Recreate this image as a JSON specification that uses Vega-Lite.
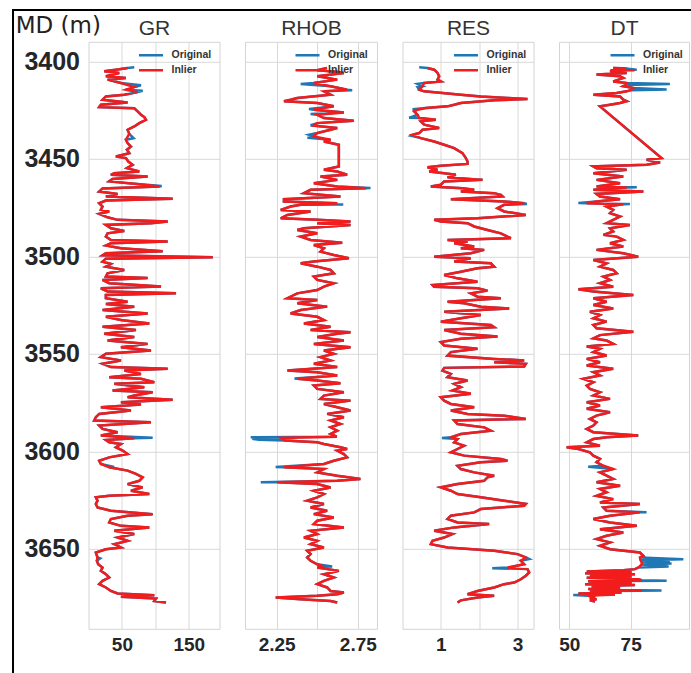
{
"$schema": "https://vega.github.io/schema/vega-lite/v6.json",
"padding": {"left": 12, "top": 9, "right": 0, "bottom": 0},
"background": "white",
"config": {
  "font": "Liberation Sans",
  "view": {"stroke": "#d4d4d4", "strokeWidth": 1},
  "axis": {"gridColor": "#d9d9d9", "gridWidth": 1, "domain": false, "ticks": false, "tickSize": 0, "labelFont": "Liberation Sans", "labelFontWeight": "bold", "labelColor": "#262626"},
  "axisX": {"labelFontSize": 19, "labelPadding": 7, "titleFont": "Liberation Sans", "titleFontSize": 21, "titleFontWeight": "normal", "titleColor": "#333333", "titleBaseline": "alphabetic", "titleAlign": "center", "titleY": -594},
  "axisY": {"labelFontSize": 25, "labelPadding": 9},
  "legend": {"symbolType": "stroke", "symbolSize": 576, "symbolStrokeWidth": 2.5, "labelFontSize": 10.5, "labelFontWeight": "bold", "labelColor": "#333333", "labelOffset": 7, "rowPadding": 0, "clipHeight": 15, "padding": 0, "labelFont": "Liberation Sans"}
},
"datasets": {
"gr": [
{"md":3403.0,"val":68.5,"out":1},{"md":3403.4,"val":58.5},{"md":3404.3,"val":41},{"md":3405.1,"val":23.5},{"md":3406.0,"val":46},{"md":3407.7,"val":26},{"md":3408.6,"val":56},{"md":3409.4,"val":28.5},{"md":3411.1,"val":48.5},{"md":3412.3,"val":78.5,"out":1},{"md":3413.2,"val":68.5},{"md":3414.6,"val":56},{"md":3415.1,"val":81,"out":1},{"md":3415.8,"val":73.5},{"md":3417.1,"val":53.5},{"md":3418.0,"val":26},{"md":3419.7,"val":21},{"md":3421.1,"val":58.5},{"md":3422.3,"val":18.5},{"md":3423.5,"val":16},{"md":3424.1,"val":68.5},{"md":3425.7,"val":73.5},{"md":3427.4,"val":78.5},{"md":3428.6,"val":83.5},{"md":3430.0,"val":86},{"md":3431.7,"val":76},{"md":3433.4,"val":68.5},{"md":3435.1,"val":58.5},{"md":3437.2,"val":61},{"md":3439.4,"val":67.5,"out":1},{"md":3440.2,"val":56},{"md":3441.9,"val":58.5},{"md":3443.7,"val":63.5},{"md":3445.4,"val":57.5},{"md":3447.1,"val":61},{"md":3448.8,"val":41},{"md":3449.6,"val":56},{"md":3451.4,"val":59.5},{"md":3453.1,"val":66},{"md":3454.8,"val":57.5},{"md":3456.5,"val":76},{"md":3457.4,"val":38.5},{"md":3458.2,"val":33.5},{"md":3459.1,"val":88.5},{"md":3460.4,"val":36},{"md":3461.6,"val":31},{"md":3462.8,"val":68.5},{"md":3464.0,"val":109.5,"out":1},{"md":3464.2,"val":106},{"md":3465.2,"val":21},{"md":3466.8,"val":16},{"md":3468.0,"val":43.5},{"md":3469.3,"val":26},{"md":3470.5,"val":126},{"md":3471.4,"val":26},{"md":3472.8,"val":16},{"md":3474.5,"val":21},{"md":3476.2,"val":18.5},{"md":3477.0,"val":31},{"md":3478.2,"val":16},{"md":3480.0,"val":28.5},{"md":3481.3,"val":43.5},{"md":3482.2,"val":118.5},{"md":3483.0,"val":93.5},{"md":3483.9,"val":26},{"md":3485.6,"val":33.5},{"md":3487.0,"val":53.5},{"md":3488.2,"val":28.5},{"md":3489.9,"val":26},{"md":3491.6,"val":33.5},{"md":3492.4,"val":118.5},{"md":3493.3,"val":33.5},{"md":3494.5,"val":26},{"md":3495.9,"val":48.5},{"md":3497.4,"val":111},{"md":3498.4,"val":26},{"md":3499.5,"val":21},{"md":3500.5,"val":186},{"md":3501.2,"val":26},{"md":3502.7,"val":21},{"md":3503.9,"val":33.5},{"md":3505.3,"val":26},{"md":3507.0,"val":53.5},{"md":3508.7,"val":28.5},{"md":3510.4,"val":26},{"md":3511.1,"val":88.5},{"md":3512.1,"val":21},{"md":3513.8,"val":31},{"md":3515.5,"val":108.5},{"md":3516.4,"val":18.5},{"md":3518.1,"val":28.5},{"md":3519.0,"val":131},{"md":3519.8,"val":26},{"md":3521.5,"val":26},{"md":3523.3,"val":58.5},{"md":3524.5,"val":26},{"md":3525.8,"val":68.5},{"md":3527.5,"val":21},{"md":3529.3,"val":88.5},{"md":3531.0,"val":26},{"md":3532.7,"val":48.5},{"md":3534.4,"val":91},{"md":3536.1,"val":21},{"md":3537.8,"val":71},{"md":3539.7,"val":23.5},{"md":3541.4,"val":68.5},{"md":3543.2,"val":28.5},{"md":3544.9,"val":88.5},{"md":3546.6,"val":48.5},{"md":3548.3,"val":93.5},{"md":3550.0,"val":26},{"md":3551.7,"val":18.5},{"md":3553.4,"val":48.5},{"md":3555.1,"val":21},{"md":3556.8,"val":33.5},{"md":3557.7,"val":118.5},{"md":3558.6,"val":53.5},{"md":3560.3,"val":78.5},{"md":3562.0,"val":31},{"md":3562.8,"val":78.5},{"md":3564.6,"val":98.5},{"md":3565.4,"val":38.5},{"md":3567.1,"val":83.5},{"md":3568.8,"val":36},{"md":3569.7,"val":96},{"md":3571.4,"val":68.5},{"md":3572.3,"val":58.5},{"md":3573.5,"val":126},{"md":3574.8,"val":48.5},{"md":3576.0,"val":78.5},{"md":3577.4,"val":18.5},{"md":3579.1,"val":63.5},{"md":3580.8,"val":16},{"md":3582.5,"val":11},{"md":3584.2,"val":8.5},{"md":3585.1,"val":93.5},{"md":3586.8,"val":16},{"md":3588.5,"val":21},{"md":3590.2,"val":43.5},{"md":3591.9,"val":18.5},{"md":3593.0,"val":96,"out":1},{"md":3593.3,"val":68.5},{"md":3594.2,"val":26},{"md":3595.4,"val":31},{"md":3596.2,"val":48.5},{"md":3597.9,"val":41},{"md":3599.6,"val":51},{"md":3601.4,"val":58.5},{"md":3603.1,"val":31},{"md":3604.8,"val":16},{"md":3606.5,"val":18.5},{"md":3608.0,"val":38.5,"out":1},{"md":3608.2,"val":31},{"md":3609.9,"val":58.5},{"md":3611.6,"val":71},{"md":3613.3,"val":81},{"md":3615.1,"val":76},{"md":3616.8,"val":58.5},{"md":3618.5,"val":81},{"md":3620.2,"val":63.5},{"md":3621.9,"val":91},{"md":3622.8,"val":31},{"md":3623.6,"val":11},{"md":3625.3,"val":13.5},{"md":3627.0,"val":11},{"md":3628.8,"val":13.5},{"md":3630.5,"val":33.5},{"md":3632.2,"val":96},{"md":3633.0,"val":58.5},{"md":3634.7,"val":33.5},{"md":3636.5,"val":31},{"md":3638.2,"val":48.5},{"md":3639.0,"val":91},{"md":3640.7,"val":38.5},{"md":3642.4,"val":68.5},{"md":3644.2,"val":43.5},{"md":3645.9,"val":58.5},{"md":3647.6,"val":38.5},{"md":3649.3,"val":48.5},{"md":3650.2,"val":26},{"md":3651.9,"val":11},{"md":3654.4,"val":13.5},{"md":3654.9,"val":17.5,"out":1},{"md":3656.1,"val":12.5},{"md":3657.9,"val":14.5},{"md":3659.6,"val":21},{"md":3661.3,"val":18.5},{"md":3663.0,"val":26},{"md":3664.7,"val":31},{"md":3666.4,"val":21},{"md":3668.1,"val":16},{"md":3669.8,"val":26},{"md":3671.6,"val":33.5},{"md":3672.9,"val":43.5},{"md":3673.8,"val":98.5},{"md":3674.6,"val":48.5},{"md":3675.5,"val":101},{"md":3676.7,"val":98.5},{"md":3677.5,"val":116}
],
"rhob": [
{"md":3403.4,"val":2.56},{"md":3404.6,"val":2.5},{"md":3405.3,"val":2.62},{"md":3406.0,"val":2.664},{"md":3407.7,"val":2.5},{"md":3409.4,"val":2.623},{"md":3411.1,"val":2.479},{"md":3411.6,"val":2.398,"out":1},{"md":3412.8,"val":2.582},{"md":3414.6,"val":2.684},{"md":3414.9,"val":2.715,"out":1},{"md":3415.4,"val":2.541},{"md":3417.1,"val":2.582},{"md":3418.8,"val":2.377},{"md":3419.7,"val":2.336},{"md":3420.5,"val":2.295},{"md":3421.4,"val":2.5},{"md":3423.1,"val":2.602},{"md":3424.5,"val":2.449,"out":1},{"md":3424.8,"val":2.479},{"md":3426.2,"val":2.664},{"md":3427.0,"val":2.459,"out":1},{"md":3427.4,"val":2.5},{"md":3429.1,"val":2.541},{"md":3430.5,"val":2.725},{"md":3431.7,"val":2.5},{"md":3432.8,"val":2.459,"out":1},{"md":3433.0,"val":2.479},{"md":3434.2,"val":2.623},{"md":3435.1,"val":2.582},{"md":3436.8,"val":2.5},{"md":3437.7,"val":2.449,"out":1},{"md":3438.5,"val":2.479},{"md":3439.2,"val":2.44,"out":1},{"md":3440.2,"val":2.582},{"md":3441.1,"val":2.541},{"md":3442.8,"val":2.633},{"md":3443.7,"val":2.633},{"md":3453.9,"val":2.633},{"md":3455.6,"val":2.541},{"md":3456.5,"val":2.623},{"md":3458.2,"val":2.684},{"md":3459.1,"val":2.52},{"md":3460.8,"val":2.623},{"md":3462.5,"val":2.479},{"md":3464.2,"val":2.623},{"md":3465.0,"val":2.828,"out":1},{"md":3465.1,"val":2.8},{"md":3465.9,"val":2.459},{"md":3467.6,"val":2.418},{"md":3469.3,"val":2.643},{"md":3470.7,"val":2.295},{"md":3471.9,"val":2.295},{"md":3472.8,"val":2.623},{"md":3473.2,"val":2.541},{"md":3473.4,"val":2.66,"out":1},{"md":3473.6,"val":2.398},{"md":3474.5,"val":2.336},{"md":3476.2,"val":2.275},{"md":3477.0,"val":2.459},{"md":3478.8,"val":2.316},{"md":3480.5,"val":2.275},{"md":3481.3,"val":2.5},{"md":3482.2,"val":2.705},{"md":3483.0,"val":2.5},{"md":3483.9,"val":2.705},{"md":3485.6,"val":2.418},{"md":3486.5,"val":2.377},{"md":3488.2,"val":2.5},{"md":3489.9,"val":2.398},{"md":3491.6,"val":2.459},{"md":3493.0,"val":2.654},{"md":3494.2,"val":2.479},{"md":3495.9,"val":2.541},{"md":3497.6,"val":2.52},{"md":3499.3,"val":2.602},{"md":3501.0,"val":2.695},{"md":3502.7,"val":2.479},{"md":3503.6,"val":2.398},{"md":3505.3,"val":2.5},{"md":3507.0,"val":2.582},{"md":3508.7,"val":2.602},{"md":3510.4,"val":2.479},{"md":3512.1,"val":2.5},{"md":3513.8,"val":2.602},{"md":3515.5,"val":2.541},{"md":3517.3,"val":2.5},{"md":3519.0,"val":2.377},{"md":3521.5,"val":2.316},{"md":3522.4,"val":2.5},{"md":3524.1,"val":2.377},{"md":3525.8,"val":2.561},{"md":3527.5,"val":2.398},{"md":3529.3,"val":2.336},{"md":3531.0,"val":2.5},{"md":3532.7,"val":2.541},{"md":3534.4,"val":2.418},{"md":3536.1,"val":2.582},{"md":3537.8,"val":2.459},{"md":3538.9,"val":2.705},{"md":3539.7,"val":2.623},{"md":3541.4,"val":2.5},{"md":3543.2,"val":2.664},{"md":3544.9,"val":2.479},{"md":3546.6,"val":2.705},{"md":3548.3,"val":2.541},{"md":3550.0,"val":2.602},{"md":3551.7,"val":2.52},{"md":3553.4,"val":2.582},{"md":3555.1,"val":2.479},{"md":3556.8,"val":2.623},{"md":3558.6,"val":2.316},{"md":3559.4,"val":2.5},{"md":3561.1,"val":2.623},{"md":3562.6,"val":2.36,"out":1},{"md":3562.8,"val":2.377},{"md":3563.7,"val":2.5},{"md":3565.1,"val":2.643},{"md":3566.3,"val":2.479},{"md":3568.0,"val":2.5},{"md":3569.7,"val":2.664},{"md":3571.4,"val":2.541},{"md":3573.1,"val":2.52},{"md":3574.0,"val":2.705},{"md":3575.7,"val":2.541},{"md":3577.4,"val":2.623},{"md":3579.1,"val":2.705},{"md":3580.8,"val":2.561},{"md":3582.5,"val":2.664},{"md":3584.2,"val":2.582},{"md":3586.0,"val":2.643},{"md":3587.7,"val":2.582},{"md":3589.4,"val":2.623},{"md":3591.1,"val":2.582},{"md":3592.5,"val":2.62},{"md":3592.8,"val":2.09,"out":1},{"md":3593.1,"val":2.275},{"md":3593.6,"val":2.1,"out":1},{"md":3594.1,"val":2.14,"out":1},{"md":3594.5,"val":2.3},{"md":3595.4,"val":2.5},{"md":3596.2,"val":2.541},{"md":3597.9,"val":2.643},{"md":3598.8,"val":2.684},{"md":3599.6,"val":2.623},{"md":3601.4,"val":2.664},{"md":3603.1,"val":2.684},{"md":3604.8,"val":2.602},{"md":3606.5,"val":2.541},{"md":3608.0,"val":2.244,"out":1},{"md":3608.2,"val":2.295},{"md":3609.1,"val":2.541},{"md":3610.8,"val":2.5},{"md":3612.5,"val":2.623},{"md":3614.2,"val":2.766},{"md":3615.1,"val":2.623},{"md":3615.8,"val":2.152,"out":1},{"md":3615.9,"val":2.254},{"md":3616.8,"val":2.5},{"md":3618.5,"val":2.582},{"md":3620.2,"val":2.479},{"md":3621.9,"val":2.541},{"md":3623.6,"val":2.5},{"md":3625.3,"val":2.438},{"md":3627.0,"val":2.541},{"md":3628.8,"val":2.459},{"md":3630.5,"val":2.561},{"md":3632.2,"val":2.479},{"md":3633.9,"val":2.602},{"md":3635.6,"val":2.5},{"md":3637.3,"val":2.479},{"md":3639.0,"val":2.664},{"md":3640.7,"val":2.459},{"md":3642.4,"val":2.5},{"md":3644.2,"val":2.418},{"md":3645.9,"val":2.5},{"md":3647.6,"val":2.459},{"md":3649.3,"val":2.541},{"md":3651.0,"val":2.438},{"md":3652.7,"val":2.459},{"md":3654.4,"val":2.438},{"md":3656.1,"val":2.459},{"md":3657.9,"val":2.5},{"md":3659.0,"val":2.592,"out":1},{"md":3659.2,"val":2.541},{"md":3659.6,"val":2.5},{"md":3661.3,"val":2.633},{"md":3663.0,"val":2.541},{"md":3664.7,"val":2.602},{"md":3666.4,"val":2.541},{"md":3668.1,"val":2.5},{"md":3669.8,"val":2.561},{"md":3671.6,"val":2.582},{"md":3672.4,"val":2.664},{"md":3673.3,"val":2.623},{"md":3674.1,"val":2.5},{"md":3675.0,"val":2.244},{"md":3675.8,"val":2.398},{"md":3676.7,"val":2.582},{"md":3677.5,"val":2.623}
],
"res": [
{"md":3403.1,"val":0.435,"out":1},{"md":3403.4,"val":0.65},{"md":3404.3,"val":0.826},{"md":3405.1,"val":0.87},{"md":3406.0,"val":0.913},{"md":3407.7,"val":0.957},{"md":3409.4,"val":0.913},{"md":3410.3,"val":1.0},{"md":3411.1,"val":0.565},{"md":3411.6,"val":0.391,"out":1},{"md":3412.8,"val":0.522},{"md":3413.2,"val":0.39,"out":1},{"md":3414.6,"val":0.435},{"md":3415.4,"val":0.565},{"md":3417.1,"val":1.522},{"md":3418.0,"val":2.043},{"md":3418.8,"val":2.739},{"md":3419.3,"val":3.261},{"md":3420.0,"val":2.391},{"md":3421.4,"val":1.522},{"md":3422.3,"val":1.348},{"md":3423.1,"val":1.174},{"md":3424.0,"val":0.609},{"md":3424.6,"val":0.261,"out":1},{"md":3424.8,"val":0.391},{"md":3425.7,"val":0.304},{"md":3427.4,"val":0.391},{"md":3429.0,"val":0.174,"out":1},{"md":3429.1,"val":0.435},{"md":3430.0,"val":0.87},{"md":3430.8,"val":0.478},{"md":3432.5,"val":0.565},{"md":3434.2,"val":0.957},{"md":3435.1,"val":0.522},{"md":3436.8,"val":0.435},{"md":3437.7,"val":0.261},{"md":3438.2,"val":0.217,"out":1},{"md":3439.4,"val":0.478},{"md":3441.1,"val":0.826},{"md":3442.8,"val":1.087},{"md":3444.5,"val":1.348},{"md":3447.1,"val":1.565},{"md":3449.6,"val":1.652},{"md":3451.4,"val":1.696},{"md":3452.6,"val":1.696},{"md":3453.6,"val":1.0},{"md":3454.3,"val":0.652},{"md":3455.6,"val":0.913},{"md":3456.5,"val":0.696},{"md":3457.4,"val":1.087},{"md":3458.2,"val":1.391},{"md":3459.4,"val":1.174},{"md":3460.8,"val":2.087},{"md":3461.6,"val":1.087},{"md":3463.3,"val":1.0},{"md":3464.2,"val":0.739},{"md":3465.1,"val":1.565},{"md":3465.9,"val":1.87},{"md":3466.8,"val":1.522},{"md":3467.6,"val":2.391},{"md":3468.5,"val":2.565},{"md":3469.3,"val":2.609},{"md":3470.7,"val":1.261},{"md":3471.9,"val":2.652},{"md":3472.8,"val":3.174},{"md":3473.2,"val":3.243,"out":1},{"md":3473.6,"val":2.652},{"md":3475.3,"val":2.478},{"md":3477.0,"val":2.652},{"md":3478.8,"val":3.217},{"md":3480.5,"val":1.957},{"md":3481.3,"val":0.826},{"md":3482.2,"val":1.0},{"md":3483.0,"val":1.696},{"md":3484.7,"val":1.87},{"md":3486.5,"val":2.217},{"md":3488.2,"val":2.565},{"md":3489.9,"val":2.739},{"md":3490.7,"val":2.826},{"md":3491.6,"val":1.174},{"md":3492.4,"val":1.696},{"md":3493.3,"val":1.348},{"md":3495.0,"val":1.87},{"md":3495.9,"val":1.522},{"md":3496.7,"val":2.13},{"md":3498.4,"val":1.783},{"md":3500.2,"val":0.826},{"md":3501.0,"val":1.783},{"md":3502.7,"val":1.348},{"md":3503.6,"val":2.304},{"md":3505.3,"val":2.391},{"md":3506.1,"val":1.957},{"md":3507.9,"val":1.522},{"md":3509.6,"val":1.087},{"md":3511.3,"val":1.435},{"md":3513.0,"val":1.957},{"md":3514.7,"val":0.783},{"md":3515.6,"val":0.826},{"md":3516.4,"val":1.957},{"md":3517.6,"val":2.217},{"md":3519.0,"val":1.783},{"md":3520.7,"val":1.957},{"md":3521.5,"val":2.565},{"md":3523.3,"val":1.174},{"md":3524.1,"val":1.609},{"md":3525.8,"val":2.043},{"md":3526.7,"val":2.783},{"md":3528.4,"val":1.087},{"md":3530.1,"val":2.043},{"md":3531.8,"val":1.522},{"md":3533.5,"val":1.0},{"md":3535.2,"val":2.304},{"md":3536.4,"val":2.391},{"md":3537.8,"val":1.087},{"md":3539.7,"val":1.522},{"md":3541.1,"val":2.478},{"md":3542.3,"val":1.522},{"md":3544.0,"val":1.0},{"md":3545.7,"val":1.087},{"md":3547.4,"val":1.957},{"md":3549.1,"val":1.261},{"md":3550.9,"val":1.174},{"md":3552.6,"val":2.391},{"md":3553.4,"val":3.174},{"md":3554.3,"val":2.391},{"md":3555.1,"val":3.217},{"md":3556.5,"val":3.174},{"md":3557.2,"val":1.087},{"md":3558.6,"val":1.043},{"md":3560.3,"val":1.261},{"md":3562.0,"val":1.174},{"md":3563.7,"val":1.696},{"md":3565.4,"val":1.348},{"md":3567.1,"val":1.522},{"md":3568.8,"val":1.304},{"md":3570.5,"val":1.783},{"md":3572.3,"val":1.0},{"md":3574.0,"val":1.087},{"md":3575.7,"val":1.261},{"md":3577.4,"val":1.87},{"md":3579.1,"val":1.261},{"md":3580.8,"val":1.696},{"md":3581.7,"val":2.652},{"md":3583.4,"val":3.217},{"md":3584.2,"val":1.348},{"md":3586.0,"val":1.435},{"md":3587.7,"val":2.13},{"md":3589.4,"val":2.304},{"md":3591.1,"val":1.522},{"md":3592.8,"val":1.27},{"md":3593.1,"val":1.03,"out":1},{"md":3593.7,"val":1.435},{"md":3595.4,"val":1.348},{"md":3597.1,"val":1.609},{"md":3598.8,"val":1.435},{"md":3600.5,"val":1.261},{"md":3602.2,"val":1.609},{"md":3603.9,"val":2.565},{"md":3604.8,"val":2.739},{"md":3605.6,"val":2.043},{"md":3607.4,"val":1.435},{"md":3609.1,"val":1.522},{"md":3610.8,"val":1.87},{"md":3612.5,"val":2.391},{"md":3613.3,"val":2.217},{"md":3615.1,"val":2.13},{"md":3616.8,"val":1.435},{"md":3618.5,"val":1.0},{"md":3620.2,"val":1.261},{"md":3621.9,"val":1.435},{"md":3623.6,"val":2.043},{"md":3625.3,"val":2.652},{"md":3627.0,"val":3.217},{"md":3627.9,"val":3.174},{"md":3629.6,"val":2.043},{"md":3631.3,"val":1.87},{"md":3633.0,"val":1.261},{"md":3634.7,"val":1.174},{"md":3636.5,"val":1.435},{"md":3637.3,"val":2.261},{"md":3639.0,"val":1.348},{"md":3640.7,"val":0.826},{"md":3642.4,"val":1.304},{"md":3644.2,"val":1.087},{"md":3645.9,"val":0.783},{"md":3647.6,"val":0.739},{"md":3649.3,"val":1.174},{"md":3651.0,"val":2.391},{"md":3652.7,"val":3.0},{"md":3654.4,"val":3.217},{"md":3655.2,"val":3.304,"out":1},{"md":3656.1,"val":3.087},{"md":3657.9,"val":3.174},{"md":3659.6,"val":2.75},{"md":3659.9,"val":2.34,"out":1},{"md":3660.4,"val":3.261},{"md":3662.1,"val":3.304},{"md":3663.8,"val":3.217},{"md":3665.6,"val":3.087},{"md":3667.3,"val":2.913},{"md":3668.1,"val":2.652},{"md":3669.8,"val":2.391},{"md":3671.6,"val":1.957},{"md":3673.3,"val":1.696},{"md":3674.1,"val":2.391},{"md":3675.0,"val":1.957},{"md":3676.4,"val":1.522},{"md":3677.5,"val":1.435}
],
"dt": [
{"md":3403.4,"val":67.9},{"md":3403.6,"val":72.0},{"md":3404.3,"val":77.5,"out":1},{"md":3404.5,"val":70.7},{"md":3405.1,"val":66.6},{"md":3406.0,"val":73.4},{"md":3406.8,"val":61.1},{"md":3407.7,"val":70.7},{"md":3408.6,"val":72.0},{"md":3410.3,"val":67.9},{"md":3411.1,"val":73.4},{"md":3411.6,"val":91.0,"out":1},{"md":3412.2,"val":73.0},{"md":3412.8,"val":72.0},{"md":3413.7,"val":76.1},{"md":3414.4,"val":89.7,"out":1},{"md":3414.8,"val":75.0},{"md":3415.4,"val":73.4},{"md":3416.3,"val":69.3},{"md":3417.1,"val":59.8},{"md":3418.0,"val":70.7},{"md":3419.7,"val":72.0},{"md":3420.5,"val":73.4},{"md":3421.4,"val":70.7},{"md":3422.3,"val":66.6},{"md":3423.1,"val":62.5},{"md":3449.6,"val":87.6},{"md":3450.5,"val":81.5},{"md":3451.9,"val":87.0},{"md":3453.1,"val":81.5},{"md":3453.9,"val":59.8},{"md":3454.8,"val":61.1},{"md":3455.6,"val":73.4},{"md":3457.4,"val":59.8},{"md":3459.1,"val":72.0},{"md":3460.8,"val":61.1},{"md":3462.5,"val":70.7},{"md":3464.2,"val":61.1},{"md":3464.6,"val":77.5,"out":1},{"md":3464.7,"val":73.4},{"md":3465.9,"val":59.8},{"md":3466.8,"val":80.2},{"md":3468.0,"val":61.1},{"md":3469.3,"val":62.5},{"md":3470.7,"val":70.7},{"md":3471.9,"val":61.1},{"md":3472.7,"val":53.7,"out":1},{"md":3472.8,"val":57.1},{"md":3473.2,"val":74.7,"out":1},{"md":3473.3,"val":72.0},{"md":3474.5,"val":65.2},{"md":3476.2,"val":67.9},{"md":3477.9,"val":66.6},{"md":3479.6,"val":70.7},{"md":3481.3,"val":67.9},{"md":3483.0,"val":65.2},{"md":3483.9,"val":74.7},{"md":3485.6,"val":66.6},{"md":3487.3,"val":67.9},{"md":3489.0,"val":63.9},{"md":3489.9,"val":69.3},{"md":3491.6,"val":72.0},{"md":3493.3,"val":66.6},{"md":3495.0,"val":72.0},{"md":3496.7,"val":61.1},{"md":3498.4,"val":72.0},{"md":3500.2,"val":78.1},{"md":3501.9,"val":59.8},{"md":3503.6,"val":65.2},{"md":3505.3,"val":62.5},{"md":3507.0,"val":67.9},{"md":3508.7,"val":69.3},{"md":3510.4,"val":63.9},{"md":3512.1,"val":66.6},{"md":3513.8,"val":62.5},{"md":3515.6,"val":67.9},{"md":3516.9,"val":53.7},{"md":3518.1,"val":59.8},{"md":3519.8,"val":76.1},{"md":3521.5,"val":59.8},{"md":3523.3,"val":65.2},{"md":3525.0,"val":59.8},{"md":3526.7,"val":67.9},{"md":3528.4,"val":58.4},{"md":3530.1,"val":62.5},{"md":3531.8,"val":59.8},{"md":3533.5,"val":65.2},{"md":3535.2,"val":59.8},{"md":3536.9,"val":61.1},{"md":3538.7,"val":76.1},{"md":3540.4,"val":62.5},{"md":3542.1,"val":59.8},{"md":3543.2,"val":65.2},{"md":3544.9,"val":67.9},{"md":3546.2,"val":57.1},{"md":3547.4,"val":62.5},{"md":3549.1,"val":59.8},{"md":3550.9,"val":65.2},{"md":3552.6,"val":57.1},{"md":3554.3,"val":62.5},{"md":3556.0,"val":57.1},{"md":3557.7,"val":67.9},{"md":3559.4,"val":59.8},{"md":3561.1,"val":62.5},{"md":3562.8,"val":55.7},{"md":3564.6,"val":59.8},{"md":3566.3,"val":57.1},{"md":3568.0,"val":58.4},{"md":3569.7,"val":62.5},{"md":3571.4,"val":59.8},{"md":3573.1,"val":66.6},{"md":3574.8,"val":57.1},{"md":3576.5,"val":62.5},{"md":3578.2,"val":57.1},{"md":3580.0,"val":66.6},{"md":3581.7,"val":61.1},{"md":3583.4,"val":58.4},{"md":3585.1,"val":61.1},{"md":3586.8,"val":59.8},{"md":3588.5,"val":57.1},{"md":3590.2,"val":59.8},{"md":3591.9,"val":78.1},{"md":3592.8,"val":65.2},{"md":3593.7,"val":59.8},{"md":3595.4,"val":57.1},{"md":3597.1,"val":62.5},{"md":3597.9,"val":48.9},{"md":3598.8,"val":53.7},{"md":3600.5,"val":58.4},{"md":3602.2,"val":59.8},{"md":3603.9,"val":62.5},{"md":3605.6,"val":61.1},{"md":3607.4,"val":63.9},{"md":3607.9,"val":57.7,"out":1},{"md":3609.1,"val":67.9},{"md":3610.8,"val":62.5},{"md":3612.5,"val":65.2},{"md":3614.2,"val":67.9},{"md":3615.9,"val":61.1},{"md":3617.6,"val":70.7},{"md":3619.3,"val":62.5},{"md":3621.0,"val":65.2},{"md":3622.8,"val":61.1},{"md":3624.5,"val":67.9},{"md":3626.2,"val":62.5},{"md":3627.0,"val":78.8},{"md":3628.8,"val":63.9},{"md":3630.5,"val":65.2},{"md":3631.2,"val":81.5,"out":1},{"md":3631.3,"val":78.8},{"md":3633.0,"val":66.6},{"md":3634.7,"val":59.8},{"md":3636.5,"val":66.6},{"md":3638.2,"val":77.5},{"md":3639.9,"val":62.5},{"md":3641.6,"val":72.0},{"md":3643.3,"val":65.2},{"md":3645.0,"val":61.1},{"md":3646.7,"val":66.6},{"md":3648.4,"val":62.5},{"md":3650.2,"val":66.6},{"md":3651.9,"val":78.8},{"md":3653.6,"val":80.2},{"md":3654.4,"val":78.8},{"md":3655.3,"val":96.5,"out":1},{"md":3655.8,"val":79.0},{"md":3656.4,"val":91.0,"out":1},{"md":3656.9,"val":79.5},{"md":3657.5,"val":91.7,"out":1},{"md":3658.0,"val":79.5},{"md":3659.0,"val":90.5,"out":1},{"md":3659.6,"val":78.1},{"md":3660.4,"val":76.8},{"md":3661.0,"val":72.0},{"md":3661.6,"val":57.1},{"md":3662.0,"val":75.4},{"md":3662.5,"val":56.4},{"md":3663.0,"val":76.8},{"md":3663.5,"val":58.4},{"md":3664.2,"val":75.4},{"md":3664.8,"val":57.1},{"md":3665.6,"val":78.1},{"md":3666.1,"val":79.5},{"md":3666.3,"val":89.7,"out":1},{"md":3666.6,"val":57.7},{"md":3667.5,"val":75.4},{"md":3668.1,"val":56.4},{"md":3668.6,"val":76.8},{"md":3669.2,"val":59.1},{"md":3670.0,"val":70.7},{"md":3670.6,"val":57.7},{"md":3671.2,"val":79.5},{"md":3671.4,"val":87.6,"out":1},{"md":3671.7,"val":58.4},{"md":3672.4,"val":71.3},{"md":3672.9,"val":53.7},{"md":3673.4,"val":68.6},{"md":3673.7,"val":51.6,"out":1},{"md":3674.0,"val":57.7},{"md":3674.6,"val":60.5},{"md":3675.2,"val":58.4},{"md":3675.8,"val":61.1},{"md":3676.4,"val":58.4},{"md":3677.0,"val":60.5}
]
},
"bounds": "flush",
"spacing": 0,
"hconcat": [
{"width": 0.01, "height": 663, "data": {"values": []}, "mark": "point", "view": {"stroke": "#000000", "strokeWidth": 2}},
{"bounds": "flush", "spacing": 30.8, "vconcat": [
{"width": 679, "height": 0.01, "data": {"values": []}, "mark": "point", "view": {"stroke": "#000000", "strokeWidth": 2}},
{"bounds": "flush", "spacing": 25.5,
 "resolve": {"scale": {"color": "independent", "x": "independent"}, "legend": {"color": "independent"}},
 "hconcat": [
{"width": 49, "height": 587, "data": {"values": []}, "mark": "point", "view": {"stroke": null}},
{
  "width": 131, "height": 587, "data": {"name": "gr"},
  "encoding": {
    "y": {"field": "md", "type": "quantitative", "scale": {"domain": [3390, 3691], "reverse": true, "nice": false, "zero": false},
      "axis": {"values": [3400, 3450, 3500, 3550, 3600, 3650], "format": "d",
        "title": "MD (m)", "titleAngle": 0, "titleAlign": "left", "titleBaseline": "alphabetic", "titleX": -73.3, "titleY": -9, "titleFont": "DejaVu Sans", "titleFontSize": 23, "titleFontWeight": "normal", "titleColor": "#222222"}},
    "x": {"field": "val", "type": "quantitative", "scale": {"domain": [0, 196], "nice": false, "zero": false},
      "axis": {"values": [50, 100, 150], "format": "d", "labelExpr": "datum.value == 100 ? '' : datum.label", "title": "GR", "titleX": 65.5}},
    "order": {"field": "md", "type": "quantitative"}
  },
  "layer": [
    {"mark": {"type": "line", "strokeWidth": 2.5}, "encoding": {"color": {"datum": "Original", "type": "nominal", "scale": {"domain": ["Original", "Inlier"], "range": ["#1f77b4", "#f31c1c"]}, "legend": {"orient": "none", "legendX": 49, "legendY": 6, "title": null}}}},
    {"transform": [{"filter": "!datum.out"}], "mark": {"type": "line", "strokeWidth": 2.5}, "encoding": {"color": {"datum": "Inlier", "type": "nominal"}}}
  ]
},
{
  "width": 132, "height": 587, "data": {"name": "rhob"},
  "encoding": {
    "y": {"field": "md", "type": "quantitative", "scale": {"domain": [3390, 3691], "reverse": true, "nice": false, "zero": false},
      "axis": {"values": [3400, 3450, 3500, 3550, 3600, 3650], "labels": false, "title": null}},
    "x": {"field": "val", "type": "quantitative", "scale": {"domain": [2.055, 2.868], "nice": false, "zero": false},
      "axis": {"values": [2.25, 2.5, 2.75], "format": ".2f", "labelExpr": "datum.value == 2.5 ? '' : datum.label", "title": "RHOB", "titleX": 66}},
    "order": {"field": "md", "type": "quantitative"}
  },
  "layer": [
    {"mark": {"type": "line", "strokeWidth": 2.5}, "encoding": {"color": {"datum": "Original", "type": "nominal", "scale": {"domain": ["Original", "Inlier"], "range": ["#1f77b4", "#f31c1c"]}, "legend": {"orient": "none", "legendX": 49, "legendY": 6, "title": null}}}},
    {"transform": [{"filter": "!datum.out"}], "mark": {"type": "line", "strokeWidth": 2.5}, "encoding": {"color": {"datum": "Inlier", "type": "nominal"}}}
  ]
},
{
  "width": 131, "height": 587, "data": {"name": "res"},
  "encoding": {
    "y": {"field": "md", "type": "quantitative", "scale": {"domain": [3390, 3691], "reverse": true, "nice": false, "zero": false},
      "axis": {"values": [3400, 3450, 3500, 3550, 3600, 3650], "labels": false, "title": null}},
    "x": {"field": "val", "type": "quantitative", "scale": {"domain": [0, 3.417], "nice": false, "zero": false},
      "axis": {"values": [1, 2, 3], "format": "d", "labelExpr": "datum.value == 2 ? '' : datum.label", "title": "RES", "titleX": 65.5}},
    "order": {"field": "md", "type": "quantitative"}
  },
  "layer": [
    {"mark": {"type": "line", "strokeWidth": 2.5}, "encoding": {"color": {"datum": "Original", "type": "nominal", "scale": {"domain": ["Original", "Inlier"], "range": ["#1f77b4", "#f31c1c"]}, "legend": {"orient": "none", "legendX": 50, "legendY": 6, "title": null}}}},
    {"transform": [{"filter": "!datum.out"}], "mark": {"type": "line", "strokeWidth": 2.5}, "encoding": {"color": {"datum": "Inlier", "type": "nominal"}}}
  ]
},
{
  "width": 130, "height": 587, "data": {"name": "dt"},
  "encoding": {
    "y": {"field": "md", "type": "quantitative", "scale": {"domain": [3390, 3691], "reverse": true, "nice": false, "zero": false},
      "axis": {"values": [3400, 3450, 3500, 3550, 3600, 3650], "labels": false, "title": null}},
    "x": {"field": "val", "type": "quantitative", "scale": {"domain": [45.8, 98.8], "nice": false, "zero": false},
      "axis": {"values": [50, 75], "format": "d", "title": "DT", "titleX": 65}},
    "order": {"field": "md", "type": "quantitative"}
  },
  "layer": [
    {"mark": {"type": "line", "strokeWidth": 2.5}, "encoding": {"color": {"datum": "Original", "type": "nominal", "scale": {"domain": ["Original", "Inlier"], "range": ["#1f77b4", "#f31c1c"]}, "legend": {"orient": "none", "legendX": 50, "legendY": 6, "title": null}}}},
    {"transform": [{"filter": "!datum.out"}], "mark": {"type": "line", "strokeWidth": 2.5}, "encoding": {"color": {"datum": "Inlier", "type": "nominal"}}}
  ]
}
]}
]}
]
}
